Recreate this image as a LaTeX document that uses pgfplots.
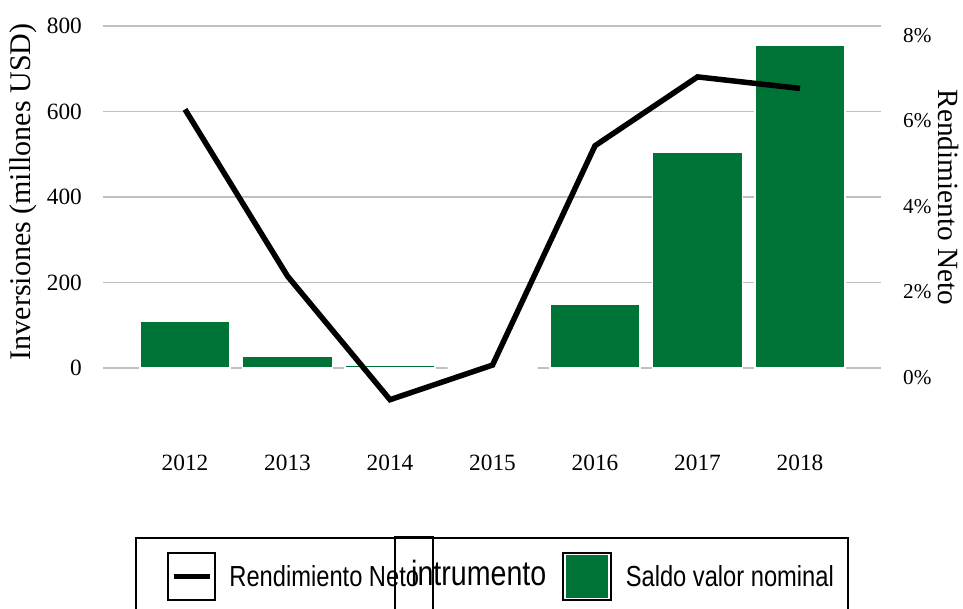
\documentclass[border=0pt]{standalone}
\usepackage{pgfplots}
\pgfplotsset{compat=1.18}
\usepackage{pgfplotstable}
\usepackage{fontspec}
\setmainfont{Liberation Serif}
\newfontfamily\legfont[FakeStretch=0.817]{Liberation Sans}
\definecolor{barg}{RGB}{0,115,54}
\definecolor{gridg}{RGB}{192,192,192}

\pgfplotstableread{
x val
0 110
1 28
2 6
3 0
4 150
5 505
6 755
}\bars

\pgfplotstableread{
x r
0 6.05
1 2.15
2 -0.74
3 0.07
4 5.2
5 6.81
6 6.54
}\rend

\begin{document}
\begin{tikzpicture}
\pgfplotsset{
  base/.style={
    scale only axis, width=778pt, height=419pt,
    at={(103pt,-445pt)}, anchor=south west,
    xmin=-0.8, xmax=6.79,
    axis line style={draw=none},
    major tick length=0pt,
    tick style={draw=none},
  },
  linekey/.style={legend image code/.code={
    \path (-15.3pt,0pt);
    \draw[black, line width=2pt, fill=white] (0pt,-23.6pt) rectangle (46.7pt,23.6pt);
    \draw[black, line width=5pt] (5.7pt,0pt) -- (42pt,0pt);
  }},
  barkey/.style={legend image code/.code={
    \draw[black, line width=2pt, fill=white] (0pt,-23.6pt) rectangle (48.3pt,23.6pt);
    \fill[barg] (4.3pt,-20.5pt) rectangle (44pt,20.5pt);
  }},
}
\begin{axis}[base,
  ymin=-180, ymax=800,
  xtick={0,1,2,3,4,5,6},
  xticklabels={2012,2013,2014,2015,2016,2017,2018},
  xticklabel style={font=\fontsize{23.3}{28}\selectfont, anchor=north, inner sep=0pt, yshift=-10pt},
  ytick={0,200,400,600,800},
  yticklabels={0,200,400,600,800},
  yticklabel style={font=\fontsize{23.3}{28}\selectfont, anchor=east, inner sep=0pt, xshift=-21pt},
  ymajorgrids,
  grid style={gridg, line width=1.5pt},
  every axis y label/.style={at={(axis description cs:-0.1028,0.604)}, rotate=90, anchor=center, font=\fontsize{30}{36}\selectfont},
  ylabel={Inversiones (millones USD)},
]
\addplot[ybar, bar width=90pt, fill=barg, draw=white, line width=1.5pt] table[x=x,y=val]{\bars};
\end{axis}
\begin{axis}[base,
  ymin=-1.8, ymax=8,
  xtick=\empty,
  yticklabel pos=right,
  ytick={0,2,4,6,8},
  yticklabels={0\%,2\%,4\%,6\%,8\%},
  yticklabel style={font=\fontsize{21.2}{26}\selectfont, anchor=west, inner sep=0pt, xshift=22pt, yshift=-9.5pt},
  every axis y label/.style={at={(axis description cs:1.0865,0.5907)}, rotate=-90, anchor=center, font=\fontsize{29.3}{35}\selectfont},
  ylabel={Rendimiento Neto},
  legend columns=2,
  legend cell align=left,
  legend style={
    at={(axis description cs:0.04113,-0.21957)}, anchor=north west,
    draw=black, line width=2pt, inner xsep=14pt, inner ysep=13.7pt,
    column sep=13.7pt,
    /tikz/every even column/.append style={column sep=142.7pt},
    nodes={inner sep=0pt, font=\legfont\fontsize{29}{34}\selectfont},
  },
]
\addplot[black, line width=5.5pt, mark=none, linekey] table[x=x,y=r]{\rend};
\addlegendentry{Rendimiento Neto}
\addlegendimage{barkey}
\addlegendentry{Saldo valor nominal}
\end{axis}
\node[anchor=base west, inner sep=0pt, font=\legfont\fontsize{35}{40}\selectfont] at (411pt,-585pt) {intrumento};
\draw[black, line width=2pt] (395pt,-537pt) rectangle (433pt,-650pt);
\pgfresetboundingbox
\path[use as bounding box] (0pt,0pt) rectangle (963pt,-608pt);
\end{tikzpicture}
\end{document}
